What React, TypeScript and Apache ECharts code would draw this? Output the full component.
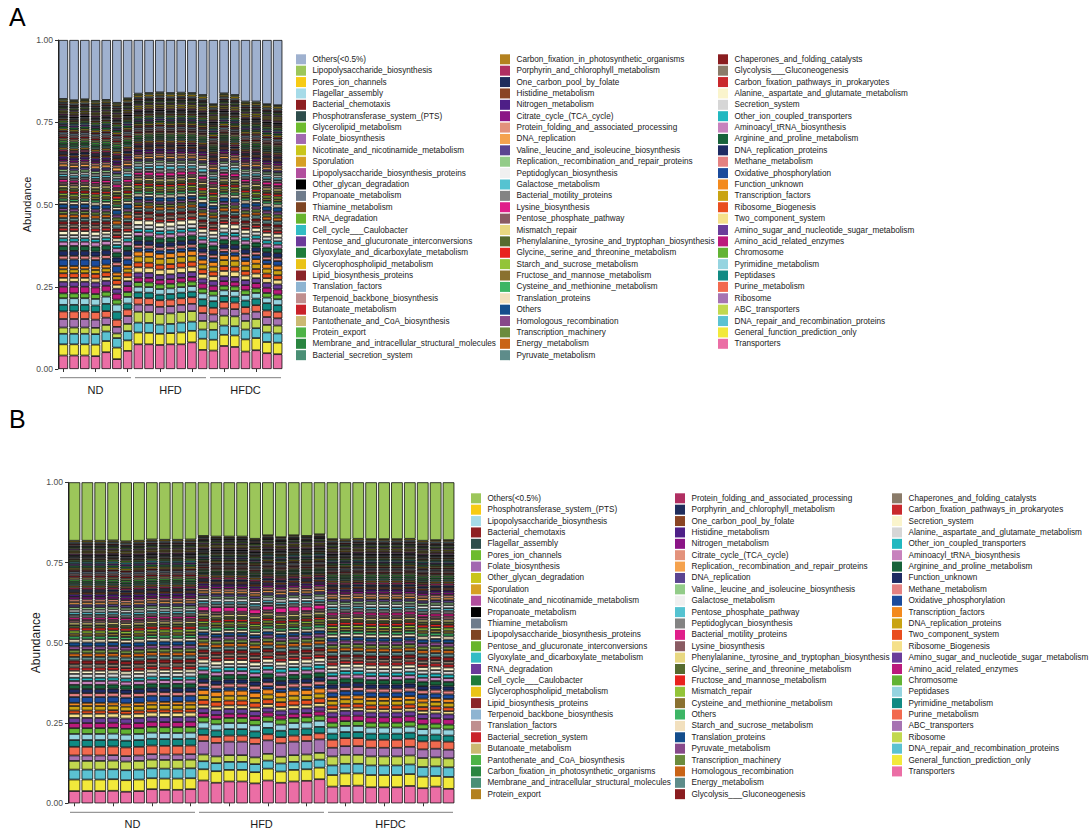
import React, { useEffect, useRef } from 'react';
import * as echarts from 'echarts';

const FONT = "'Liberation Sans', Arial, Helvetica, sans-serif";
const GROUPS = ['ND', 'HFD', 'HFDC'];

// Colour palette in legend position order (panel A). Panel B uses the same palette shifted by one.
const PALETTE = [
  '#9FB1CF', '#9CC65A', '#F7CB15', '#A6DBE8', '#8E1F22', '#2E4D4B', '#6DBB2E', '#A268B0', '#C9C51B', '#D6A024',
  '#B14E9D', '#000000', '#6E7B8B', '#7E4523', '#67B42D', '#33BCC4', '#6B3A9A', '#1E7B3A', '#EAC316', '#8A2428',
  '#8EB4D1', '#BF8E8E', '#C9222A', '#CBB972', '#4DB346', '#2A8540', '#4A8F75',
  '#B3811F', '#B02F62', '#1F2D5C', '#8A4424', '#4E1F87', '#8B1586', '#E3927C', '#F5A24E', '#5B4491', '#93CC89',
  '#F0F0F0', '#55C3D1', '#838383', '#E01F8A', '#8A5B63', '#E8D882', '#566B2F', '#E8231F', '#93C438', '#8A7130',
  '#3DB565', '#F2E0BE', '#144D8C', '#87498A', '#6B8B3D', '#C96316', '#5E8C8A',
  '#8A1D20', '#8A7B69', '#C9282C', '#FAF4CC', '#D6D6D6', '#21B8C0', '#C782BD', '#17623A', '#1E2B63', '#E48181',
  '#1B4B9C', '#F38A1E', '#C9A312', '#E94E1F', '#F5E08A', '#6A3D9A', '#BB1A7C', '#62B334', '#95D4E0', '#118A83',
  '#F26A4F', '#A673B2', '#C2D84F', '#5BC2D2', '#F2E93B', '#EB6EA5',
];

// ---------------- Panel A (21 samples: ND x7, HFD x7, HFDC x7), values in per-mille ----------------
const namesA = [
  'Others(<0.5%)', 'Lipopolysaccharide_biosynthesis', 'Pores_ion_channels', 'Flagellar_assembly', 'Bacterial_chemotaxis',
  'Phosphotransferase_system_(PTS)', 'Glycerolipid_metabolism', 'Folate_biosynthesis', 'Nicotinate_and_nicotinamide_metabolism',
  'Sporulation', 'Lipopolysaccharide_biosynthesis_proteins', 'Other_glycan_degradation', 'Propanoate_metabolism',
  'Thiamine_metabolism', 'RNA_degradation', 'Cell_cycle___Caulobacter', 'Pentose_and_glucuronate_interconversions',
  'Glyoxylate_and_dicarboxylate_metabolism', 'Glycerophospholipid_metabolism', 'Lipid_biosynthesis_proteins',
  'Translation_factors', 'Terpenoid_backbone_biosynthesis', 'Butanoate_metabolism', 'Pantothenate_and_CoA_biosynthesis',
  'Protein_export', 'Membrane_and_intracellular_structural_molecules', 'Bacterial_secretion_system',
  'Carbon_fixation_in_photosynthetic_organisms', 'Porphyrin_and_chlorophyll_metabolism', 'One_carbon_pool_by_folate',
  'Histidine_metabolism', 'Nitrogen_metabolism', 'Citrate_cycle_(TCA_cycle)', 'Protein_folding_and_associated_processing',
  'DNA_replication', 'Valine,_leucine_and_isoleucine_biosynthesis', 'Replication,_recombination_and_repair_proteins',
  'Peptidoglycan_biosynthesis', 'Galactose_metabolism', 'Bacterial_motility_proteins', 'Lysine_biosynthesis',
  'Pentose_phosphate_pathway', 'Mismatch_repair', 'Phenylalanine,_tyrosine_and_tryptophan_biosynthesis',
  'Glycine,_serine_and_threonine_metabolism', 'Starch_and_sucrose_metabolism', 'Fructose_and_mannose_metabolism',
  'Cysteine_and_methionine_metabolism', 'Translation_proteins', 'Others', 'Homologous_recombination',
  'Transcription_machinery', 'Energy_metabolism', 'Pyruvate_metabolism',
  'Chaperones_and_folding_catalysts', 'Glycolysis___Gluconeogenesis', 'Carbon_fixation_pathways_in_prokaryotes',
  'Alanine,_aspartate_and_glutamate_metabolism', 'Secretion_system', 'Other_ion_coupled_transporters',
  'Aminoacyl_tRNA_biosynthesis', 'Arginine_and_proline_metabolism', 'DNA_replication_proteins', 'Methane_metabolism',
  'Oxidative_phosphorylation', 'Function_unknown', 'Transcription_factors', 'Ribosome_Biogenesis', 'Two_component_system',
  'Amino_sugar_and_nucleotide_sugar_metabolism', 'Amino_acid_related_enzymes', 'Chromosome', 'Pyrimidine_metabolism',
  'Peptidases', 'Purine_metabolism', 'Ribosome', 'ABC_transporters', 'DNA_repair_and_recombination_proteins',
  'General_function_prediction_only', 'Transporters',
];

const valuesA: number[][] = [
  [179,183,180,185,182,191,177, 163,161,159,161,160,161,167, 195,162,167,187,187,195,198], // Others(<0.5%)
  [5,5,5,5,5,5,5, 5,5,5,5,5,5,5, 5,5,5,5,5,5,5],
  [5,5,5,5,5,5,5, 6,6,6,6,6,6,6, 6,6,6,6,6,6,6],
  [5,5,5,5,5,5,5, 5,5,5,5,5,5,5, 5,5,5,5,5,5,5],
  [5,5,5,5,5,5,5, 5,5,5,5,5,5,5, 5,5,5,5,5,5,5],
  [5,5,5,5,5,5,5, 5,5,5,5,5,5,5, 5,5,5,5,5,5,5],
  [5,5,5,5,5,5,5, 5,5,5,5,5,5,5, 5,5,5,5,5,5,5],
  [5,5,5,5,5,5,5, 5,5,5,5,5,5,5, 5,5,5,5,5,5,5],
  [5,5,5,5,5,5,5, 6,6,6,6,6,6,6, 6,6,6,6,6,6,6],
  [5,5,5,5,5,5,5, 6,6,6,6,6,6,6, 6,6,6,6,6,6,6],
  [5,5,5,5,5,5,5, 5,5,5,5,5,5,5, 5,5,5,5,5,5,5],
  [5,5,5,5,5,5,5, 5,5,5,5,5,5,5, 5,5,5,5,5,5,5],
  [5,5,5,5,5,5,5, 5,5,5,5,5,5,5, 5,5,5,5,5,5,5],
  [6,6,6,6,6,6,6, 6,6,6,6,6,6,6, 6,6,6,6,6,6,6],
  [6,6,6,6,6,6,6, 6,6,6,6,6,6,6, 6,6,6,6,6,6,6],
  [5,5,5,5,5,5,5, 5,5,5,5,5,5,5, 5,5,5,5,5,5,5],
  [6,6,6,6,6,6,6, 6,6,6,6,6,6,6, 6,6,6,6,6,6,6],
  [7,7,7,7,7,7,7, 6,6,6,6,6,6,6, 6,6,6,6,6,6,6],
  [6,6,6,6,6,6,6, 6,6,6,6,6,6,6, 6,6,6,6,6,6,6],
  [6,6,6,6,6,6,6, 6,6,6,6,6,6,6, 6,6,6,6,6,6,6],
  [6,6,6,6,6,6,6, 6,6,6,6,6,6,6, 6,6,6,6,6,6,6],
  [6,6,6,6,6,6,6, 6,6,6,6,6,6,6, 6,6,6,6,6,6,6],
  [6,6,6,6,6,6,6, 5,5,5,5,5,5,5, 5,5,5,5,5,5,5],
  [6,6,6,6,6,6,6, 6,6,6,6,6,6,6, 6,6,6,6,6,6,6],
  [7,7,7,7,7,7,7, 6,6,6,6,6,6,6, 6,6,6,6,6,6,6],
  [7,7,7,7,7,7,7, 6,6,6,6,6,6,6, 6,6,6,6,6,6,6],
  [7,7,7,7,7,7,7, 6,6,6,6,6,6,6, 6,6,6,6,6,6,6],
  // column 2
  [7,7,7,7,7,7,7, 6,7,7,7,7,6,7, 6,6,6,6,5,6,6],
  [7,7,7,7,7,7,7, 6,6,6,6,6,6,6, 6,6,6,6,6,6,6],
  [7,7,7,7,7,7,7, 6,6,6,6,6,6,6, 6,6,6,6,6,6,6],
  [7,7,7,7,7,7,7, 7,7,7,7,7,7,7, 7,7,7,7,7,7,7],
  [8,8,8,8,8,8,8, 7,7,7,7,7,7,7, 7,7,7,7,7,7,7],
  [7,7,7,7,7,7,7, 7,7,7,7,7,7,7, 7,7,7,7,7,7,7],
  [7,7,7,7,7,7,7, 7,7,7,7,7,7,7, 7,7,7,7,7,7,7],
  [9,9,9,9,9,11,9, 8,8,8,8,8,8,8, 8,8,8,8,8,8,8],
  [8,8,8,8,8,8,8, 7,7,7,7,7,7,7, 7,7,7,7,7,7,7],
  [8,8,8,8,8,8,8, 7,7,7,7,7,7,7, 7,7,7,7,7,7,7],
  [7,7,7,7,7,7,7, 8,8,8,8,8,8,10, 7,9,8,7,7,7,7],
  [8,8,8,8,8,8,10, 9,9,11,11,9,9,11, 8,10,10,8,8,8,8],
  [7,7,7,7,7,9,7, 9,9,11,9,9,9,11, 8,10,8,8,8,8,8],
  [10,8,9,8,9,10,10, 9,11,11,11,11,9,11, 8,10,10,9,8,10,10],
  [8,8,8,8,8,8,8, 8,8,8,8,8,8,8, 8,8,8,8,8,8,8],
  [8,8,8,8,8,8,8, 8,8,8,8,8,8,8, 8,8,8,8,8,8,8],
  [9,9,9,9,9,9,9, 8,8,8,8,8,8,8, 8,8,8,8,8,8,8],
  [8,8,8,8,8,10,8, 8,8,8,8,8,8,10, 8,8,8,8,8,8,8],
  [8,8,8,8,8,8,8, 8,8,8,8,8,8,8, 8,8,8,8,8,8,8],
  [8,8,8,8,8,8,8, 8,8,8,8,8,8,8, 8,8,8,8,8,8,8],
  [8,8,8,8,8,8,8, 8,8,8,8,8,8,10, 8,8,8,8,8,8,8],
  [9,9,9,9,9,9,9, 9,9,9,9,9,9,11, 9,9,9,9,9,9,9],
  [12,12,12,12,12,14,14, 10,10,12,12,11,10,13, 11,13,13,13,11,13,13],
  [9,9,9,9,9,9,9, 8,8,8,8,8,8,8, 9,9,9,9,9,9,9],
  [9,9,9,9,9,9,9, 8,8,8,8,8,8,8, 9,9,9,9,9,9,9],
  [12,10,12,10,10,12,12, 9,9,11,9,9,9,11, 9,11,11,11,9,11,11],
  [10,10,10,10,10,12,10, 9,9,9,9,9,9,11, 10,10,10,10,10,10,10],
  // column 3
  [10,10,10,10,10,10,10, 9,9,9,9,9,9,9, 9,9,9,9,9,9,9],
  [10,10,10,10,10,10,10, 10,10,10,10,10,10,10, 10,10,10,10,10,10,10],
  [10,10,10,10,10,10,10, 9,9,9,9,9,9,9, 9,9,9,9,9,9,9],
  [12,12,12,12,10,10,10, 14,14,14,14,14,14,12, 12,14,14,12,12,12,12],
  [10,10,10,10,10,10,10, 12,12,12,12,12,12,11, 11,12,12,11,11,11,11],
  [10,10,10,10,10,10,10, 10,10,10,10,10,10,10, 10,10,10,10,10,10,10],
  [13,13,13,13,13,13,13, 12,12,12,12,12,12,12, 12,12,12,12,12,12,12],
  [15,15,15,15,15,15,15, 14,14,14,14,14,14,14, 14,14,14,14,14,14,14],
  [15,15,15,15,15,15,15, 13,13,13,13,13,13,13, 14,13,13,14,14,14,14],
  [11,11,11,11,11,11,11, 10,10,10,10,10,10,10, 10,10,10,10,10,10,10],
  [20,20,20,20,18,20,17, 10,10,10,10,10,10,12, 12,10,10,12,12,12,14],
  [10,10,10,10,11,11,11, 15,15,15,15,15,15,14, 14,15,15,14,14,14,14],
  [12,12,12,12,12,12,12, 18,18,18,18,18,18,15, 15,18,18,16,16,15,15],
  [14,14,14,14,14,14,14, 15,15,15,15,15,15,14, 14,15,15,14,14,14,14],
  [12,12,12,12,12,12,12, 16,16,16,16,16,16,14, 14,16,16,14,14,14,14],
  [15,15,15,15,15,15,15, 15,15,15,15,15,15,15, 15,15,15,15,15,15,15],
  [20,20,20,20,18,18,18, 14,14,14,14,14,14,16, 16,14,14,16,16,16,16],
  [15,15,15,15,15,15,15, 14,14,14,14,14,14,14, 14,14,14,14,14,14,14],
  [20,20,20,20,22,22,20, 17,17,17,17,17,17,18, 17,17,17,17,17,17,18],
  [20,20,20,20,22,24,18, 17,17,17,17,17,17,20, 20,18,18,20,20,22,20],
  [23,23,23,23,20,22,20, 20,20,20,20,20,20,22, 20,20,20,20,20,20,20],
  [26,26,26,25,22,20,24, 22,22,22,22,22,22,24, 22,22,22,22,22,24,22],
  [19,19,19,19,20,14,22, 33,33,32,32,32,32,26, 25,30,30,26,28,23,24],
  [32,32,32,32,29,29,28, 30,30,28,28,30,28,28, 30,28,28,30,30,29,28],
  [34,34,34,35,34,35,32, 36,35,34,34,36,35,34, 33,34,35,37,37,34,35],
  [41,41,41,39,51,30,55, 75,75,73,75,75,81,58, 56,70,67,53,57,48,45], // Transporters
];

// ---------------- Panel B (30 samples: ND x10, HFD x10, HFDC x10), values in per-mille ----------------
const namesB = [
  'Others(<0.5%)', 'Phosphotransferase_system_(PTS)', 'Lipopolysaccharide_biosynthesis', 'Bacterial_chemotaxis',
  'Flagellar_assembly', 'Pores_ion_channels', 'Folate_biosynthesis', 'Other_glycan_degradation', 'Sporulation',
  'Nicotinate_and_nicotinamide_metabolism', 'Propanoate_metabolism', 'Thiamine_metabolism',
  'Lipopolysaccharide_biosynthesis_proteins', 'Pentose_and_glucuronate_interconversions',
  'Glyoxylate_and_dicarboxylate_metabolism', 'RNA_degradation', 'Cell_cycle___Caulobacter',
  'Glycerophospholipid_metabolism', 'Lipid_biosynthesis_proteins', 'Terpenoid_backbone_biosynthesis',
  'Translation_factors', 'Bacterial_secretion_system', 'Butanoate_metabolism', 'Pantothenate_and_CoA_biosynthesis',
  'Carbon_fixation_in_photosynthetic_organisms', 'Membrane_and_intracellular_structural_molecules', 'Protein_export',
  'Protein_folding_and_associated_processing', 'Porphyrin_and_chlorophyll_metabolism', 'One_carbon_pool_by_folate',
  'Histidine_metabolism', 'Nitrogen_metabolism', 'Citrate_cycle_(TCA_cycle)',
  'Replication,_recombination_and_repair_proteins', 'DNA_replication', 'Valine,_leucine_and_isoleucine_biosynthesis',
  'Galactose_metabolism', 'Pentose_phosphate_pathway', 'Peptidoglycan_biosynthesis', 'Bacterial_motility_proteins',
  'Lysine_biosynthesis', 'Phenylalanine,_tyrosine_and_tryptophan_biosynthesis', 'Glycine,_serine_and_threonine_metabolism',
  'Fructose_and_mannose_metabolism', 'Mismatch_repair', 'Cysteine_and_methionine_metabolism', 'Others',
  'Starch_and_sucrose_metabolism', 'Translation_proteins', 'Pyruvate_metabolism', 'Transcription_machinery',
  'Homologous_recombination', 'Energy_metabolism', 'Glycolysis___Gluconeogenesis',
  'Chaperones_and_folding_catalysts', 'Carbon_fixation_pathways_in_prokaryotes', 'Secretion_system',
  'Alanine,_aspartate_and_glutamate_metabolism', 'Other_ion_coupled_transporters', 'Aminoacyl_tRNA_biosynthesis',
  'Arginine_and_proline_metabolism', 'Function_unknown', 'Methane_metabolism', 'Oxidative_phosphorylation',
  'Transcription_factors', 'DNA_replication_proteins', 'Two_component_system', 'Ribosome_Biogenesis',
  'Amino_sugar_and_nucleotide_sugar_metabolism', 'Amino_acid_related_enzymes', 'Chromosome', 'Peptidases',
  'Pyrimidine_metabolism', 'Purine_metabolism', 'ABC_transporters', 'Ribosome', 'DNA_repair_and_recombination_proteins',
  'General_function_prediction_only', 'Transporters',
];

const valuesB: number[][] = [
  [182,182,182,181,184,182,178,179,179,178, 167,169,169,169,176,165,171,165,167,162, 177,178,176,177,177,177,176,182,180,180], // Others(<0.5%)
  [5,5,5,5,5,5,5,5,5,5, 4,4,4,4,4,4,4,4,4,4, 5,5,5,5,5,5,5,5,5,5],
  [5,5,5,5,5,5,5,5,5,5, 4,4,4,4,4,4,4,4,4,4, 5,5,5,5,5,5,5,5,5,5],
  [5,5,5,5,5,5,5,5,5,5, 4,4,4,4,4,4,4,4,4,4, 5,5,5,5,5,5,5,5,5,5],
  [5,5,5,5,5,5,5,5,5,5, 4,4,4,4,4,4,4,4,4,4, 5,5,5,5,5,5,5,5,5,5],
  [5,5,5,5,5,5,5,5,5,5, 5,5,5,5,5,5,5,5,5,5, 5,5,5,5,5,5,5,5,5,5],
  [5,5,5,5,5,5,5,5,5,5, 5,5,5,5,5,5,5,5,5,5, 5,5,5,5,5,5,5,5,5,5],
  [5,5,5,5,5,5,5,5,5,5, 5,5,5,5,5,5,5,5,5,5, 5,5,5,5,5,5,5,5,5,5],
  [5,5,5,5,5,5,5,5,5,5, 5,5,5,5,5,5,5,5,5,5, 5,5,5,5,5,5,5,5,5,5],
  [5,5,5,5,5,5,5,5,5,5, 5,5,5,5,5,5,5,5,5,5, 5,5,5,5,5,5,5,5,5,5],
  [5,5,5,5,5,5,5,5,5,5, 5,5,5,5,5,5,5,5,5,5, 5,5,5,5,5,5,5,5,5,5],
  [5,5,5,5,5,5,5,5,5,5, 5,5,5,5,5,5,5,5,5,5, 5,5,5,5,5,5,5,5,5,5],
  [5,5,5,5,5,5,5,5,5,5, 5,5,5,5,5,5,5,5,5,5, 5,5,5,5,5,5,5,5,5,5],
  [6,6,6,6,6,6,6,6,6,6, 5,5,5,5,5,5,5,5,5,5, 5,5,5,5,5,5,5,5,5,5],
  [6,6,6,6,6,6,6,6,6,6, 5,5,5,5,5,5,5,5,5,5, 5,5,5,5,5,5,5,5,5,5],
  [6,6,6,6,6,6,6,6,6,6, 5,5,5,5,5,5,5,5,5,5, 5,5,5,5,5,5,5,5,5,5],
  [7,7,7,7,7,7,7,7,7,7, 5,5,5,5,5,5,5,5,5,5, 6,6,6,6,6,6,6,6,6,6],
  [6,6,6,6,6,6,6,6,6,6, 5,5,5,5,5,5,5,5,5,5, 5,5,5,5,5,5,5,5,5,5],
  [6,6,6,6,6,6,6,6,6,6, 5,5,5,5,5,5,5,5,5,5, 5,5,5,5,5,5,5,5,5,5],
  [6,6,6,6,6,6,6,6,6,6, 5,5,5,5,5,5,5,5,5,5, 5,5,5,5,5,5,5,5,5,5],
  [6,6,6,6,6,6,6,6,6,6, 5,5,5,5,5,5,5,5,5,5, 5,5,5,5,5,5,5,5,5,5],
  [6,6,6,6,6,6,6,6,6,6, 5,5,5,5,5,5,5,5,5,5, 5,5,5,5,5,5,5,5,5,5],
  [6,6,6,6,6,6,6,6,6,6, 5,5,5,5,5,5,5,5,5,5, 5,5,5,5,5,5,5,5,5,5],
  [7,7,7,7,7,7,7,7,7,7, 5,5,5,5,5,5,5,5,5,5, 6,6,6,6,6,6,6,6,6,6],
  [6,6,6,6,6,6,6,6,6,6, 5,5,5,5,5,5,5,5,5,5, 6,6,6,6,6,6,6,6,6,6],
  [6,6,6,6,6,6,6,6,6,6, 5,5,5,5,5,5,5,5,5,5, 6,6,6,6,6,6,6,6,6,6],
  [6,6,6,6,6,6,6,6,6,6, 6,6,6,6,6,6,6,6,6,6, 6,6,6,6,6,6,6,6,6,6],
  // column 2
  [7,7,7,7,7,7,7,7,7,7, 7,7,7,7,7,7,7,7,7,7, 7,7,7,7,7,7,7,7,7,7],
  [7,7,7,7,7,7,7,7,7,7, 7,7,7,7,7,7,7,7,7,7, 7,7,7,7,7,7,7,7,7,7],
  [7,7,7,7,7,7,7,7,7,7, 7,7,7,7,7,7,7,7,7,7, 7,7,7,7,7,7,7,7,7,7],
  [8,8,8,8,8,8,8,8,8,8, 7,7,7,7,7,7,7,7,7,7, 7,7,7,7,7,7,7,7,7,7],
  [8,8,8,8,8,8,8,8,8,8, 8,8,8,8,8,8,8,8,8,8, 8,8,8,8,8,8,8,8,8,8],
  [8,8,8,8,8,8,8,8,8,8, 8,8,8,8,8,8,8,8,8,8, 8,8,8,8,8,8,8,8,8,8],
  [8,8,8,8,8,8,8,8,8,8, 8,8,8,8,8,8,8,8,8,8, 8,8,8,8,8,8,8,8,8,8],
  [8,8,8,8,8,8,8,8,8,8, 8,8,8,8,8,8,8,8,8,8, 8,8,8,8,8,8,8,8,8,8],
  [8,8,8,8,8,8,8,8,8,8, 7,7,7,7,7,7,7,7,7,7, 8,8,8,8,8,8,8,8,8,8],
  [8,8,8,8,8,8,8,8,8,8, 9,9,9,9,9,9,9,11,9,9, 9,7,7,9,9,9,7,9,9,9],
  [8,8,8,8,8,8,8,8,8,8, 8,8,8,8,8,8,8,8,8,8, 8,8,8,8,8,8,8,8,8,8],
  [8,8,8,8,8,8,8,8,8,8, 9,9,9,9,9,9,9,9,9,9, 9,9,9,9,9,9,9,9,9,9],
  [8,8,8,8,8,8,8,8,8,8, 14,16,14,14,14,14,16,16,14,14, 9,7,9,9,9,9,9,9,9,9],
  [8,8,8,8,8,8,8,8,8,8, 8,8,8,8,8,8,8,8,8,8, 8,8,8,8,8,8,8,8,8,10],
  [8,8,8,8,8,8,8,8,8,8, 8,8,8,8,8,8,8,8,8,8, 8,8,8,8,8,8,8,8,8,8],
  [8,8,8,8,8,8,8,8,8,8, 8,8,8,8,8,8,8,8,8,8, 8,8,8,8,8,8,8,8,8,8],
  [9,9,9,9,9,9,9,9,9,9, 8,8,8,8,8,8,8,8,8,8, 9,9,9,9,9,9,9,9,9,9],
  [9,9,9,9,9,9,9,9,9,9, 8,8,8,8,8,8,8,8,8,8, 9,9,9,9,9,9,9,9,9,9],
  [9,9,9,9,9,9,9,9,9,9, 8,8,8,8,8,8,8,8,8,8, 9,9,9,9,9,9,9,9,9,9],
  [9,9,9,9,9,9,9,9,9,9, 9,11,9,9,9,9,9,9,9,9, 9,9,9,9,9,9,9,9,9,9],
  [10,10,10,10,10,10,10,10,10,10, 9,9,9,9,9,9,9,9,9,9, 10,10,10,10,10,10,10,10,10,10],
  [12,12,12,12,12,12,12,12,12,12, 10,10,10,10,10,10,11,10,10,10, 11,11,11,11,11,11,11,11,11,11],
  [11,11,11,11,11,11,11,11,11,11, 11,11,11,11,11,11,11,11,11,11, 11,11,11,11,11,11,11,11,11,11],
  [11,11,11,11,11,11,11,11,11,11, 11,11,11,11,11,11,11,11,11,11, 11,11,11,11,11,11,11,11,11,11],
  [11,11,11,11,11,11,11,11,11,11, 11,11,11,11,11,11,11,11,11,11, 11,11,11,11,11,11,11,11,11,11],
  [11,11,11,11,11,11,11,11,11,11, 11,11,11,11,11,11,11,11,11,11, 11,11,11,11,11,11,11,11,11,11],
  [12,12,12,12,12,12,12,12,12,12, 11,11,11,11,11,11,11,11,11,11, 11,9,9,11,11,11,11,11,11,12],
  // column 3
  [10,10,10,10,10,10,10,10,10,10, 10,10,10,10,10,10,10,10,10,10, 10,10,10,10,10,10,10,10,10,10],
  [10,10,10,10,10,10,10,10,10,10, 10,10,10,10,10,10,10,10,10,10, 10,10,10,10,10,10,10,10,10,10],
  [10,10,10,10,10,10,10,10,10,10, 12,12,12,12,12,12,12,12,12,12, 11,11,11,11,11,11,11,11,11,11],
  [12,12,12,12,12,12,12,12,12,12, 10,10,10,10,10,10,10,10,10,10, 11,11,11,11,11,11,11,11,11,11],
  [10,10,10,10,10,10,10,10,10,10, 12,12,12,12,12,12,12,12,12,12, 11,11,11,11,11,11,11,11,11,11],
  [12,12,12,12,12,12,12,12,12,12, 12,12,12,12,12,12,12,12,12,12, 12,12,12,12,12,12,12,12,12,12],
  [13,13,13,13,13,13,13,13,13,13, 14,14,14,14,14,14,14,14,14,14, 14,14,14,14,14,14,14,14,14,14],
  [13,13,13,13,13,13,13,13,13,13, 13,13,13,13,13,13,13,13,13,13, 13,13,13,13,13,13,13,13,13,13],
  [12,12,12,12,12,12,12,12,12,12, 12,12,12,12,12,12,12,12,12,12, 12,12,12,12,12,12,12,12,12,12],
  [18,18,18,18,18,18,18,18,18,18, 10,10,10,10,10,10,10,10,10,10, 14,14,14,14,14,14,14,14,14,14],
  [10,10,10,10,10,10,10,10,10,10, 16,16,16,16,16,16,16,16,16,16, 12,12,12,12,12,12,12,12,12,12],
  [14,14,14,14,14,14,14,14,14,14, 15,15,15,15,15,15,15,15,15,15, 14,14,14,14,14,14,14,14,14,14],
  [10,10,10,10,10,10,10,10,10,10, 15,15,15,15,15,15,15,15,15,15, 12,12,12,12,12,12,12,12,12,12],
  [13,13,13,13,13,13,13,13,13,13, 11,11,11,11,11,11,11,11,11,11, 10,10,10,10,10,10,10,10,10,10],
  [16,16,16,16,16,16,16,16,16,16, 15,15,15,15,15,15,15,15,15,15, 15,15,15,15,15,15,15,15,15,15],
  [16,16,16,16,16,16,16,16,16,16, 13,13,13,13,13,13,13,13,13,13, 17,17,17,17,17,17,17,17,17,17],
  [18,18,18,18,18,18,18,18,18,18, 16,16,16,16,16,16,16,16,16,16, 15,15,15,15,15,15,15,15,15,15],
  [19,19,19,19,19,19,19,19,19,19, 19,19,19,19,19,19,19,19,19,19, 19,19,19,19,19,19,19,19,19,19],
  [21,21,21,21,21,21,21,21,21,21, 20,20,20,20,20,20,20,20,20,20, 19,19,19,19,19,19,19,19,19,19],
  [27,27,27,27,27,27,27,27,27,27, 19,19,19,19,19,19,19,19,19,19, 25,25,25,25,25,25,25,25,25,25],
  [17,17,17,17,17,17,17,17,17,17, 42,42,42,42,42,42,42,42,42,42, 27,27,27,27,27,27,27,27,27,27],
  [27,27,27,27,27,27,27,27,27,27, 21,21,21,21,21,21,21,21,21,21, 28,28,28,28,28,28,28,28,28,28],
  [31,31,31,31,31,31,31,31,31,31, 25,25,25,25,25,25,25,25,25,25, 30,30,30,30,30,30,30,30,30,30],
  [36,36,36,36,36,36,34,35,35,34, 35,36,36,36,35,37,35,36,36,36, 36,39,38,38,38,38,37,36,33,37],
  [38,38,38,39,36,38,44,42,42,44, 71,64,68,68,62,71,64,68,70,75, 52,54,55,50,50,50,54,47,52,45], // Transporters
];

const Y_TICKS = [0, 0.25, 0.5, 0.75, 1];

interface Panel {
  letter: string;
  names: string[];
  values: number[][];
  colors: string[];
  grid: { left: number; top: number; width: number; height: number };
  legendLefts: number[];
  legendTop: number;
  legendSplits: number[];
  barGap: string;
  nameSize: number;
  nameGap: number;
  letterTop: number;
  groupLineY: number;
  groupLabelMargin: number;
}

function buildOption(p: Panel) {
  const n = p.values[0].length;
  const sampleIds = Array.from({ length: n }, (_, i) => 'S' + (i + 1));
  const series: any[] = [];
  for (let i = p.names.length - 1; i >= 0; i--) {
    series.push({
      type: 'bar',
      name: p.names[i],
      stack: 'abundance',
      barCategoryGap: p.barGap,
      silent: true,
      data: p.values[i].map((v) => v / 1000),
      itemStyle: { color: p.colors[i], borderColor: '#000', borderWidth: 0.75 },
    });
  }
  const splits = [0, ...p.legendSplits, p.names.length];
  const legend = p.legendLefts.map((left, k) => ({
    orient: 'vertical',
    left,
    top: p.legendTop,
    padding: 0,
    itemWidth: 13,
    itemHeight: 10,
    itemGap: 1.38,
    icon: 'path://M0,0L10,0L10,10L0,10Z',
    symbolKeepAspect: true,
    selectedMode: false,
    itemStyle: { borderWidth: 0 },
    textStyle: { fontSize: 8.2, color: '#1a1a1a', fontFamily: FONT, lineHeight: 10 },
    data: p.names.slice(splits[k], splits[k + 1]),
  }));
  const span = p.grid.width / GROUPS.length;
  const graphic: any[] = GROUPS.map((_, k) => ({
    type: 'line',
    silent: true,
    shape: {
      x1: p.grid.left + k * span + 2,
      y1: p.groupLineY,
      x2: p.grid.left + (k + 1) * span - 2,
      y2: p.groupLineY,
    },
    style: { stroke: '#7f7f7f', lineWidth: 1 },
  }));
  graphic.push({
    type: 'text',
    left: 9,
    top: p.letterTop,
    style: { text: p.letter, fontSize: 25, fill: '#000', fontFamily: FONT },
  });
  return {
    animation: false,
    backgroundColor: '#ffffff',
    textStyle: { fontFamily: FONT },
    grid: { left: p.grid.left, top: p.grid.top, width: p.grid.width, height: p.grid.height, containLabel: false },
    legend,
    graphic,
    xAxis: [
      {
        type: 'category',
        data: sampleIds,
        axisLine: { show: false },
        axisTick: { show: true, alignWithLabel: true, length: 3, lineStyle: { color: '#333', width: 1 } },
        axisLabel: { show: false },
        splitLine: { show: false },
      },
      {
        type: 'category',
        data: GROUPS,
        position: 'bottom',
        offset: 0,
        axisLine: { show: false },
        axisTick: { show: false },
        axisLabel: { fontSize: 11, color: '#1a1a1a', margin: p.groupLabelMargin, fontFamily: FONT },
        splitLine: { show: false },
      },
    ],
    yAxis: {
      type: 'value',
      min: Y_TICKS[0],
      max: Y_TICKS[Y_TICKS.length - 1],
      interval: Y_TICKS[1] - Y_TICKS[0],
      name: 'Abundance',
      nameLocation: 'middle',
      nameGap: p.nameGap,
      nameTextStyle: { fontSize: p.nameSize, color: '#1a1a1a', fontFamily: FONT },
      axisLine: { show: true, lineStyle: { color: '#333', width: 1 } },
      axisTick: { show: true, length: 3, lineStyle: { color: '#333', width: 1 } },
      axisLabel: {
        fontSize: 8.6,
        color: '#4d4d4d',
        margin: 5,
        fontFamily: FONT,
        formatter: (v: number) => v.toFixed(2),
      },
      splitLine: { show: false },
    },
    series,
  };
}

const panelA: Panel = {
  letter: 'A',
  names: namesA,
  values: valuesA,
  colors: PALETTE,
  grid: { left: 58, top: 40, width: 225, height: 329 },
  legendLefts: [296, 500, 718],
  legendTop: 54.3,
  legendSplits: [27, 54],
  barGap: '12%',
  nameSize: 11,
  nameGap: 25,
  letterTop: 4,
  groupLineY: 377.7,
  groupLabelMargin: 15,
};

const panelB: Panel = {
  letter: 'B',
  names: namesB,
  values: valuesB,
  colors: PALETTE.slice(1),
  grid: { left: 68, top: 82.3, width: 387, height: 321 },
  legendLefts: [471, 675, 892],
  legendTop: 93.3,
  legendSplits: [27, 54],
  barGap: '10%',
  nameSize: 12,
  nameGap: 26,
  letterTop: 6,
  groupLineY: 412.3,
  groupLabelMargin: 15,
};

export default function App() {
  const refA = useRef<HTMLDivElement>(null);
  const refB = useRef<HTMLDivElement>(null);
  useEffect(() => {
    const a = echarts.init(refA.current as HTMLDivElement, null, { renderer: 'svg' });
    a.setOption(buildOption(panelA) as any);
    const b = echarts.init(refB.current as HTMLDivElement, null, { renderer: 'svg' });
    b.setOption(buildOption(panelB) as any);
    return () => {
      a.dispose();
      b.dispose();
    };
  }, []);
  return (
    <div style={{ position: 'absolute', left: 0, top: 0, width: 1089, height: 834, background: '#fff' }}>
      <div ref={refA} style={{ position: 'absolute', left: 0, top: 0, width: 1089, height: 400 }} />
      <div ref={refB} style={{ position: 'absolute', left: 0, top: 400, width: 1089, height: 434 }} />
    </div>
  );
}
